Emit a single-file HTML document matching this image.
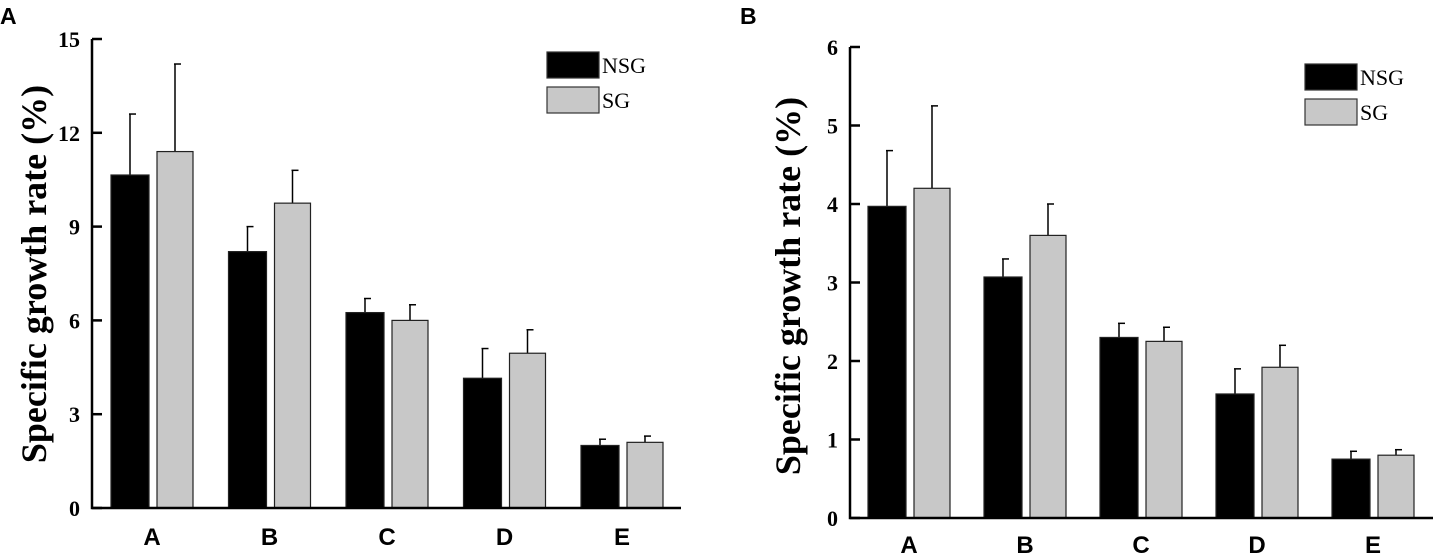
<!DOCTYPE html>
<html><head><meta charset="utf-8"><style>
body{margin:0;background:#fff;width:1433px;height:558px;overflow:hidden}
svg{display:block}
.tk{font-family:"Liberation Serif",serif;font-weight:bold;font-size:22px}
.xl{font-family:"Liberation Sans",sans-serif;font-weight:bold;font-size:24px}
.pl{font-family:"Liberation Sans",sans-serif;font-weight:bold;font-size:23px}
.yt{font-family:"Liberation Serif",serif;font-weight:bold;font-size:36px}
.lg{font-family:"Liberation Serif",serif;font-size:22px}
</style></head><body>
<svg id="s" width="1433" height="558"></svg>
<script>
const categories=["A","B","C","D","E"];
const nsgA=[10.65,8.2,6.25,4.15,2.0];
const nsgAErr=[1.95,0.8,0.45,0.95,0.2];
const sgA=[11.4,9.75,6.0,4.95,2.1];
const sgAErr=[2.8,1.05,0.5,0.75,0.2];
const ticksA=[0,3,6,9,12,15];
const nsgB=[3.97,3.07,2.3,1.58,0.75];
const nsgBErr=[0.71,0.23,0.18,0.32,0.1];
const sgB=[4.2,3.6,2.25,1.92,0.8];
const sgBErr=[1.05,0.4,0.18,0.28,0.07];
const ticksB=[0,1,2,3,4,5,6];
const NS="http://www.w3.org/2000/svg";
const svg=document.getElementById('s');
function mk(tag,attrs,parent,text){const e=document.createElementNS(NS,tag);for(const k in attrs)e.setAttribute(k,attrs[k]);if(text!==undefined)e.textContent=text;(parent||svg).appendChild(e);return e;}
function panel(cfg){
  const g=mk('g',{});
  
  
  const y=v=>cfg.y0-(v/cfg.max)*(cfg.y0-cfg.yTop);
  const pl=mk('text',{x:cfg.lx,y:24,class:'pl'},g,cfg.id);
  
  
  categories.forEach((c,i)=>{
    const bx=cfg.x0+i*cfg.step;
    [[cfg.nsg[i],cfg.nsgE[i],bx,38,'#000','nsg'],[cfg.sg[i],cfg.sgE[i],bx+46,36,'#c8c8c8','sg']].forEach(([v,e,x,w,f,n])=>{
      const cx=x+w/2;
      const el=mk('line',{x1:cx,x2:cx,y1:y(v),y2:y(v+e),stroke:'#000','stroke-width':1.5},g);
      
      
      const cap=mk('line',{x1:cx-1,x2:cx+6,y1:y(v+e),y2:y(v+e),stroke:'#000','stroke-width':1.5},g);
      
      
      const r=mk('rect',{x:x,y:y(v),width:w,height:cfg.y0-y(v),fill:f,stroke:'#222','stroke-width':1.2},g);
      
      
    });
    const t=mk('text',{x:bx+41,y:cfg.xly,'text-anchor':'middle',class:'xl'},g,c);
    
    
  });
  const ax=mk('path',{d:`M${cfg.ax} ${cfg.yTop}V${cfg.y0}H${cfg.xEnd}`,stroke:'#000','stroke-width':2.5,fill:'none'},g);
  
  
  cfg.ticks.forEach(t=>{
    const l=mk('line',{x1:cfg.ax,x2:cfg.ax+10,y1:y(t),y2:y(t),stroke:'#000','stroke-width':2.5},g);
    
    
    const tx=mk('text',{x:cfg.ax-12,y:y(t)+8,'text-anchor':'end',class:'tk'},g,t);
    
    
  });
  const yt=mk('text',{x:0,y:0,transform:`translate(${cfg.ytx},${cfg.yty}) rotate(-90)`,'text-anchor':'middle',class:'yt'},g,'Specific growth rate (%)');
  
  
  [['#000','NSG',cfg.lgy],['#c8c8c8','SG',cfg.lgy+35]].forEach(([f,n,ly])=>{
    const r=mk('rect',{x:cfg.lgx,y:ly,width:52,height:26,fill:f,stroke:'#333','stroke-width':1.2},g);
    
    
    const t=mk('text',{x:cfg.lgx+55,y:ly+21,class:'lg'},g,n);
    
    
  });
}
panel({id:'A',lx:0,x0:111,step:117.5,ax:92,xEnd:681,y0:508,yTop:39,max:15,ticks:ticksA,nsg:nsgA,nsgE:nsgAErr,sg:sgA,sgE:sgAErr,xly:545,ytx:46,yty:274,lgx:547,lgy:52});
panel({id:'B',lx:740,x0:868,step:116,ax:850,xEnd:1433,y0:518,yTop:47,max:6,ticks:ticksB,nsg:nsgB,nsgE:nsgBErr,sg:sgB,sgE:sgBErr,xly:553,ytx:800,yty:286,lgx:1305,lgy:64});
</script>
</body></html>
